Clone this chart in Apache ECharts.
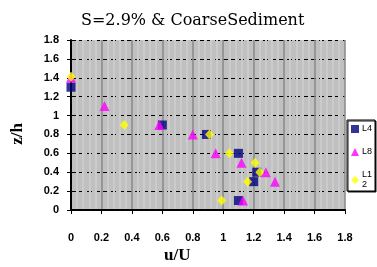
<!DOCTYPE html>
<html>
<head>
<meta charset="utf-8">
<script src="https://cdn.jsdelivr.net/npm/echarts@6/dist/echarts.min.js"></script>
<style>
  html, body { margin: 0; padding: 0; background: #fff; }
  #chart { width: 377px; height: 267px; }
</style>
</head>
<body>
<div id="chart"></div>
<script>
// 数据 (u/U, z/h)
const seriesNames = ['L4', 'L8', 'L12'];
const l4 = [[0, 1.3], [0.6, 0.9], [0.89, 0.8], [1.1, 0.6], [1.22, 0.4], [1.2, 0.3], [1.1, 0.1]];
const l8 = [[0, 1.4], [0.22, 1.1], [0.58, 0.9], [0.8, 0.8], [0.95, 0.6], [1.12, 0.5], [1.28, 0.4], [1.34, 0.3], [1.13, 0.1]];
const l12 = [[0, 1.41], [0.35, 0.9], [0.91, 0.8], [1.04, 0.6], [1.21, 0.5], [1.24, 0.4], [1.16, 0.3], [0.99, 0.1]];
const xTicks = [0, 0.2, 0.4, 0.6, 0.8, 1, 1.2, 1.4, 1.6, 1.8];
const yTicks = [0, 0.2, 0.4, 0.6, 0.8, 1, 1.2, 1.4, 1.6, 1.8];

const chart = echarts.init(document.getElementById('chart'));
const labelStyle = { color: '#000', fontFamily: 'Liberation Sans', fontWeight: 'bold', fontSize: 11 };

const option = {
    animation: false,
    title: {
        text: 'S=2.9% & CoarseSediment',
        left: 76,
        top: 8,
        textStyle: { fontFamily: 'DejaVu Serif', fontSize: 16, fontWeight: 'normal', color: '#000' }
    },
    grid: { left: 71, right: 32, top: 40, bottom: 57, backgroundColor: '#c0c0c0', show: true, borderWidth: 0 },
    legend: {
        orient: 'vertical',
        left: 347,
        top: 120,
        padding: [4, 3, 1, 4],
        itemGap: 13,
        itemWidth: 8,
        itemHeight: 8,
        borderColor: '#000',
        borderWidth: 1,
        shadowColor: 'rgba(0,0,0,0.9)',
        shadowOffsetX: 1,
        shadowOffsetY: 1,
        backgroundColor: '#fff',
        textStyle: { fontFamily: 'Liberation Sans', fontSize: 9, color: '#000', lineHeight: 10, padding: [0, 0, 0, -2] },
        formatter: function (name) { return name === 'L12' ? 'L1\n2' : name; },
        data: seriesNames
    },
    xAxis: {
        type: 'value',
        min: 0, max: 1.8, interval: 0.2,
        axisLine: { onZero: false, lineStyle: { color: '#000', width: 2 } },
        axisTick: { show: true, length: 4, lineStyle: { color: '#000', width: 1 } },
        axisLabel: Object.assign({ margin: 22, formatter: v => xTicks.includes(+v.toFixed(1)) ? String(+v.toFixed(1)) : '' }, labelStyle),
        splitLine: { show: true, lineStyle: { color: '#888', width: 1.5 } },
        minorTick: { show: false, splitNumber: 5 },
        minorSplitLine: { show: true, lineStyle: { color: '#cbcbcb', width: 2 } }
    },
    yAxis: {
        type: 'value',
        min: 0, max: 1.8, interval: 0.2,
        axisLine: { onZero: false, lineStyle: { color: '#000', width: 2 } },
        axisTick: { show: true, length: 4, lineStyle: { color: '#000', width: 1 } },
        axisLabel: Object.assign({ margin: 12, formatter: v => yTicks.includes(+v.toFixed(1)) ? String(+v.toFixed(1)) : '' }, labelStyle),
        splitLine: { show: true, lineStyle: { color: '#000', width: 1.2, type: [5, 3] } }
    },
    graphic: [
        {
            type: 'text', left: 9, top: 123, rotation: Math.PI / 2,
            style: { text: 'z/h', font: 'bold 17px "Liberation Serif"', fill: '#000' }
        },
        {
            type: 'text', left: 164, top: 247,
            style: { text: 'u/U', font: 'bold 17px "Liberation Serif"', fill: '#000' }
        }
    ],
    series: [
        { name: 'L4', type: 'scatter', data: l4, symbol: 'rect', symbolSize: 9, itemStyle: { color: '#000080' }, z: 3 },
        { name: 'L8', type: 'scatter', data: l8, symbol: 'triangle', symbolSize: 10, itemStyle: { color: '#ff00ff' }, z: 4 },
        { name: 'L12', type: 'scatter', data: l12, symbol: 'diamond', symbolSize: [9, 10], itemStyle: { color: '#ffff00' }, z: 5 }
    ]
};
chart.setOption(option);
</script>
</body>
</html>
